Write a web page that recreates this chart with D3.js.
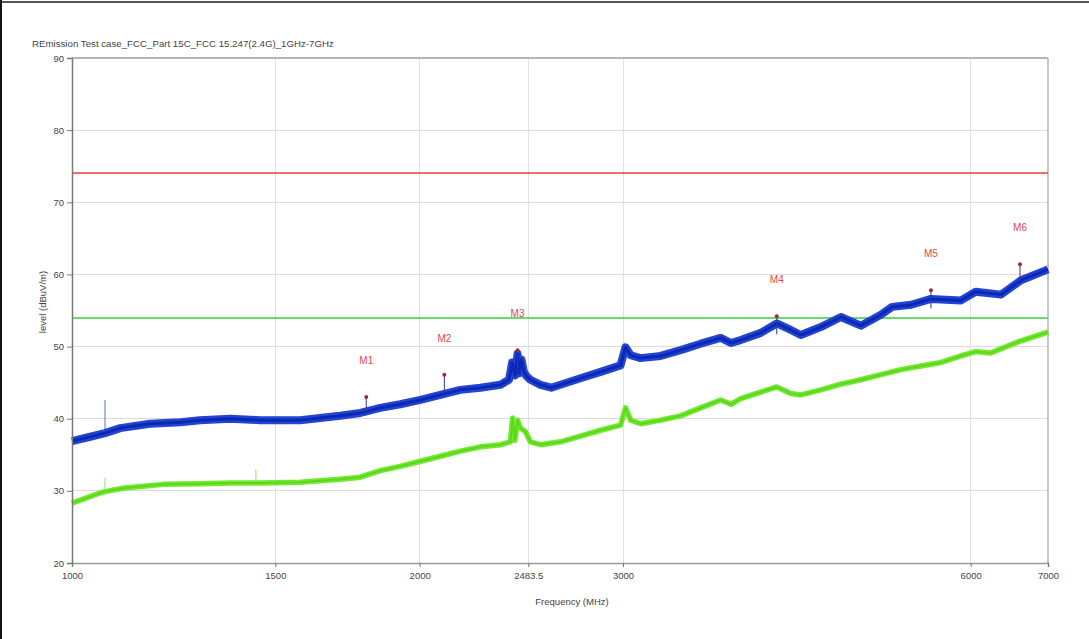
<!DOCTYPE html>
<html>
<head>
<meta charset="utf-8">
<script src="https://cdn.jsdelivr.net/npm/d3@7/dist/d3.min.js"></script>
<style>
  html, body { margin: 0; padding: 0; background: #fff; }
  svg { display: block; }
  text { font-family: "Liberation Sans", "DejaVu Sans", sans-serif; }
</style>
</head>
<body>
<svg id="chart" width="1089" height="639"></svg>
<script>
// ---- data ----
const titleText = "REmission Test case_FCC_Part 15C_FCC 15.247(2.4G)_1GHz-7GHz";
const xTickValues = [1000, 1500, 2000, 2483.5, 3000, 6000, 7000];
const xTickLabels = ["1000", "1500", "2000", "2483.5", "3000", "6000", "7000"];
const yTickValues = [20, 30, 40, 50, 60, 70, 80, 90];

// Peak trace (blue)
const peakFreq = [1000, 1037, 1068, 1101, 1168, 1241, 1291, 1371, 1455, 1515, 1576, 1640, 1707, 1777, 1849, 1924, 2003, 2084, 2169, 2258, 2350, 2390, 2405, 2420, 2431, 2440, 2450, 2462, 2475, 2494, 2545, 2600, 2648, 2756, 2869, 2985, 3015, 3046, 3107, 3233, 3365, 3502, 3645, 3720, 3793, 3948, 4076, 4192, 4276, 4450, 4632, 4820, 5016, 5130, 5330, 5543, 5885, 6060, 6374, 6633, 7000];
const peakLevel = [36.9, 37.5, 38.0, 38.7, 39.3, 39.5, 39.8, 40.0, 39.8, 39.8, 39.8, 40.1, 40.4, 40.8, 41.5, 42.0, 42.6, 43.3, 44.0, 44.3, 44.7, 45.4, 47.8, 46.0, 49.0, 46.3, 48.2, 46.5, 45.9, 45.4, 44.7, 44.3, 44.7, 45.6, 46.5, 47.4, 49.9, 48.8, 48.4, 48.7, 49.5, 50.4, 51.2, 50.5, 50.9, 51.9, 53.2, 52.3, 51.6, 52.7, 54.1, 52.9, 54.4, 55.5, 55.8, 56.6, 56.4, 57.6, 57.2, 59.2, 60.7];
// narrow spurs on the peak trace
const peakSpurFreq = [1068];
const peakSpurBase = [38.0];
const peakSpurTop = [42.6];

// Average trace (green)
const avgFreq = [1000, 1053, 1068, 1110, 1200, 1291, 1371, 1443, 1455, 1576, 1707, 1777, 1849, 1924, 2003, 2084, 2169, 2258, 2350, 2397, 2407, 2418, 2431, 2445, 2470, 2494, 2545, 2648, 2756, 2869, 2985, 3015, 3046, 3107, 3233, 3365, 3502, 3645, 3720, 3793, 3948, 4076, 4192, 4276, 4450, 4632, 4820, 5016, 5221, 5433, 5655, 5885, 6060, 6240, 6633, 7000];
const avgLevel = [28.3, 29.6, 29.9, 30.4, 30.9, 31.0, 31.1, 31.1, 31.1, 31.2, 31.6, 31.9, 32.8, 33.4, 34.1, 34.8, 35.5, 36.1, 36.4, 36.8, 40.1, 37.0, 39.8, 38.7, 38.2, 36.8, 36.4, 36.8, 37.6, 38.4, 39.1, 41.5, 39.8, 39.3, 39.8, 40.4, 41.5, 42.6, 42.0, 42.8, 43.7, 44.4, 43.5, 43.3, 44.0, 44.8, 45.4, 46.1, 46.8, 47.3, 47.8, 48.7, 49.3, 49.1, 50.8, 52.0];
const avgSpurFreq = [1068, 1443];
const avgSpurBase = [29.9, 31.1];
const avgSpurTop = [31.8, 33.0];

// Limit lines
const limitLevels = [74, 54];
const limitColors = ["#ee3c3c", "#3ccc3c"];

// Markers
const markerNames = ["M1", "M2", "M3", "M4", "M5", "M6"];
const markerFreq = [1798, 2101, 2431, 4076, 5543, 6620];
const markerLevel = [43.0, 46.1, 49.5, 54.2, 57.8, 61.4];

// ---- layout ----
const svg = d3.select("#chart");
const W = 1089, H = 639;
const plot = { left: 72, right: 1048, top: 58, bottom: 563 };

const x = d3.scaleLog().domain([1000, 7000]).range([plot.left, plot.right]);
const y = d3.scaleLinear().domain([20, 90]).range([plot.bottom, plot.top]);

// outer frame (screenshot border)
svg.append("line").attr("x1", 0).attr("x2", W).attr("y1", 2).attr("y2", 2)
  .attr("stroke", "#555").attr("stroke-width", 2);
svg.append("line").attr("x1", 1).attr("x2", 1).attr("y1", 0).attr("y2", H)
  .attr("stroke", "#111").attr("stroke-width", 2);

// title
svg.append("text").attr("x", 32).attr("y", 47)
  .attr("font-size", 9.7).attr("fill", "#444").text(titleText);

// gridlines
const grid = svg.append("g").attr("shape-rendering", "crispEdges");
grid.selectAll("line.h").data(yTickValues.filter(v => v > 20 && v < 90)).enter()
  .append("line")
  .attr("x1", plot.left).attr("x2", plot.right)
  .attr("y1", d => y(d)).attr("y2", d => y(d))
  .attr("stroke", "#dcdcdc").attr("stroke-width", 1);
grid.selectAll("line.v").data(xTickValues.filter(v => v > 1000 && v < 7000)).enter()
  .append("line")
  .attr("x1", d => x(d)).attr("x2", d => x(d))
  .attr("y1", plot.top).attr("y2", plot.bottom)
  .attr("stroke", "#e2e2e2").attr("stroke-width", 1);

// top & right frame
svg.append("line").attr("x1", plot.left).attr("x2", plot.right)
  .attr("y1", plot.top).attr("y2", plot.top).attr("stroke", "#b5b5b5").attr("stroke-width", 2);
svg.append("line").attr("x1", plot.right).attr("x2", plot.right)
  .attr("y1", plot.top).attr("y2", plot.bottom).attr("stroke", "#c5c5c5").attr("stroke-width", 2);

// limit lines
svg.append("g")
  .selectAll("line").data(limitLevels).enter().append("line")
  .attr("x1", plot.left).attr("x2", plot.right)
  .attr("y1", d => Math.round(y(d))).attr("y2", d => Math.round(y(d)))
  .attr("stroke", (d, i) => limitColors[i]).attr("stroke-width", 1.6);

// traces
const peakData = peakFreq.map((f, i) => [f, peakLevel[i]]);
const avgData = avgFreq.map((f, i) => [f, avgLevel[i]]);
const lineGen = d3.line().x(d => x(d[0])).y(d => y(d[1]));

function spurs(freqs, base, top, color) {
  svg.append("g").selectAll("line").data(freqs).enter().append("line")
    .attr("x1", d => x(d)).attr("x2", d => x(d))
    .attr("y1", (d, i) => y(base[i])).attr("y2", (d, i) => y(top[i]))
    .attr("stroke", color).attr("stroke-width", 1);
}

spurs(avgSpurFreq, avgSpurBase, avgSpurTop, "#8ee860");
svg.append("path").datum(avgData).attr("d", lineGen)
  .attr("fill", "none").attr("stroke", "#74e830").attr("stroke-width", 5.5)
  .attr("stroke-linejoin", "round");
svg.append("path").datum(avgData).attr("d", lineGen)
  .attr("fill", "none").attr("stroke", "#5ad81c").attr("stroke-width", 2)
  .attr("stroke-linejoin", "round");

spurs(peakSpurFreq, peakSpurBase, peakSpurTop, "#5a70d8");
svg.append("path").datum(peakData).attr("d", lineGen)
  .attr("fill", "none").attr("stroke", "#2244d0").attr("stroke-width", 8)
  .attr("stroke-linejoin", "round");
svg.append("path").datum(peakData).attr("d", lineGen)
  .attr("fill", "none").attr("stroke", "#0a28b4").attr("stroke-width", 3)
  .attr("stroke-linejoin", "round");

// markers
const mk = svg.append("g");
markerFreq.forEach((f, i) => {
  mk.append("line").attr("x1", x(f)).attr("x2", x(f))
    .attr("y1", y(markerLevel[i])).attr("y2", y(markerLevel[i] - 2.5))
    .attr("stroke", "#2a3a9a").attr("stroke-width", 1);
  mk.append("circle").attr("cx", x(f)).attr("cy", y(markerLevel[i])).attr("r", 2)
    .attr("fill", "#9a2c3a");
  mk.append("text").attr("x", x(f)).attr("y", y(markerLevel[i]) - 33)
    .attr("text-anchor", "middle").attr("font-size", 10).attr("fill", "#e04848")
    .text(markerNames[i]);
});

// axes
const xAxis = d3.axisBottom(x).tickValues(xTickValues)
  .tickFormat((d, i) => xTickLabels[i]).tickSizeOuter(0).tickSize(4);
const gx = svg.append("g").attr("transform", `translate(0,${plot.bottom})`).call(xAxis);
gx.select(".domain").attr("stroke", "#999").attr("stroke-width", 1.5);
gx.selectAll(".tick line").attr("stroke", "#777");
gx.selectAll(".tick text").attr("font-size", 9.5).attr("fill", "#444")
  .attr("font-family", "Liberation Sans, sans-serif").attr("dy", "0.9em");

const yAxis = d3.axisLeft(y).tickValues(yTickValues).tickSizeOuter(0).tickSize(5);
const gy = svg.append("g").attr("transform", `translate(${plot.left},0)`).call(yAxis);
gy.select(".domain").attr("stroke", "#777").attr("stroke-width", 1.5);
gy.selectAll(".tick line").attr("stroke", "#777");
gy.selectAll(".tick text").attr("font-size", 9.5).attr("fill", "#444")
  .attr("font-family", "Liberation Sans, sans-serif");

// axis titles
svg.append("text").attr("x", 572).attr("y", 605).attr("text-anchor", "middle")
  .attr("font-size", 9.5).attr("fill", "#444").text("Frequency (MHz)");
svg.append("text").attr("transform", "translate(46,302) rotate(-90)")
  .attr("text-anchor", "middle").attr("font-size", 9.5).attr("fill", "#444")
  .text("level (dBuV/m)");
</script>
</body>
</html>
